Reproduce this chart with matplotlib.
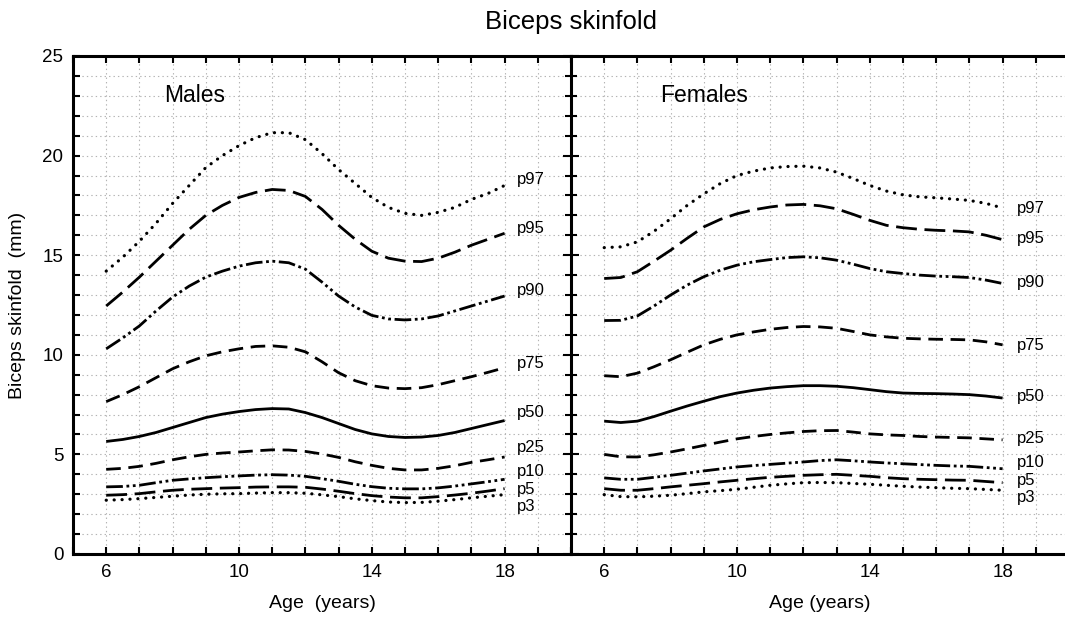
import matplotlib
matplotlib.use("Agg")
import matplotlib.pyplot as plt
from matplotlib.ticker import MultipleLocator, FixedLocator

plt.rcParams['font.family'] = ['Liberation Sans', 'DejaVu Sans']
plt.rcParams['lines.scale_dashes'] = False

# ---- data (biceps skinfold, mm), every half year ----
ages = [6, 6.5, 7, 7.5, 8, 8.5, 9, 9.5, 10, 10.5, 11, 11.5, 12,
        12.5, 13, 13.5, 14, 14.5, 15, 15.5, 16, 16.5, 17, 17.5, 18]
pct_names = ["p97", "p95", "p90", "p75", "p50", "p25", "p10", "p5", "p3"]

m_p97 = [14.2, 14.9, 15.7, 16.6, 17.6, 18.5, 19.4, 20.0, 20.5, 20.9, 21.15, 21.15, 20.8,
         20.1, 19.3, 18.6, 17.9, 17.4, 17.1, 17.0, 17.15, 17.4, 17.8, 18.1, 18.5]
m_p95 = [12.45, 13.15, 13.9, 14.7, 15.5, 16.3, 17.0, 17.5, 17.9, 18.15, 18.3, 18.25, 17.95,
         17.3, 16.5, 15.8, 15.2, 14.85, 14.7, 14.68, 14.85, 15.15, 15.5, 15.8, 16.1]
m_p90 = [10.3, 10.85, 11.45, 12.2, 12.9, 13.45, 13.9, 14.2, 14.45, 14.62, 14.7, 14.62, 14.3,
         13.65, 12.95, 12.4, 11.98, 11.8, 11.75, 11.8, 11.95, 12.2, 12.45, 12.7, 12.95]
m_p75 = [7.65, 8.0, 8.4, 8.85, 9.3, 9.65, 9.95, 10.15, 10.3, 10.42, 10.45, 10.38, 10.15,
         9.65, 9.1, 8.7, 8.45, 8.33, 8.3, 8.35, 8.5, 8.7, 8.9, 9.12, 9.35]
m_p50 = [5.65, 5.75, 5.9, 6.1, 6.35, 6.6, 6.85, 7.02, 7.15, 7.25, 7.3, 7.28, 7.1,
         6.85, 6.55, 6.25, 6.03, 5.9, 5.85, 5.87, 5.95, 6.1, 6.3, 6.5, 6.7]
m_p25 = [4.25, 4.3, 4.4, 4.55, 4.73, 4.88, 5.0, 5.07, 5.12, 5.18, 5.23, 5.22, 5.15,
         5.02, 4.85, 4.63, 4.45, 4.3, 4.22, 4.22, 4.3, 4.43, 4.6, 4.73, 4.87]
m_p10 = [3.37, 3.39, 3.45, 3.58, 3.7, 3.77, 3.83, 3.88, 3.92, 3.96, 3.98, 3.96, 3.9,
         3.78, 3.65, 3.5, 3.38, 3.3, 3.27, 3.27, 3.32, 3.41, 3.52, 3.63, 3.75]
m_p5 = [2.95, 2.98, 3.03, 3.12, 3.2, 3.25, 3.28, 3.31, 3.33, 3.36, 3.37, 3.37, 3.35,
        3.26, 3.15, 3.03, 2.93, 2.86, 2.82, 2.82, 2.88, 2.96, 3.05, 3.16, 3.28]
m_p3 = [2.7, 2.73, 2.78, 2.84, 2.9, 2.96, 3.0, 3.02, 3.03, 3.06, 3.08, 3.08, 3.05,
        2.97, 2.88, 2.77, 2.68, 2.61, 2.58, 2.59, 2.65, 2.73, 2.82, 2.9, 2.98]

f_p97 = [15.38, 15.42, 15.67, 16.2, 16.83, 17.5, 18.08, 18.6, 19.0, 19.22, 19.38, 19.45, 19.47,
         19.38, 19.17, 18.85, 18.5, 18.22, 18.03, 17.93, 17.88, 17.82, 17.75, 17.6, 17.37]
f_p95 = [13.83, 13.88, 14.17, 14.7, 15.25, 15.85, 16.42, 16.8, 17.08, 17.28, 17.42, 17.52, 17.55,
         17.48, 17.33, 17.05, 16.75, 16.5, 16.38, 16.3, 16.25, 16.22, 16.17, 16.0, 15.78]
f_p90 = [11.72, 11.73, 11.95, 12.45, 13.0, 13.5, 13.92, 14.25, 14.5, 14.67, 14.78, 14.88, 14.92,
         14.87, 14.75, 14.55, 14.33, 14.17, 14.08, 14.0, 13.95, 13.92, 13.88, 13.75, 13.58]
f_p75 = [8.95, 8.9, 9.08, 9.4, 9.75, 10.13, 10.5, 10.78, 11.0, 11.15, 11.28, 11.37, 11.42,
         11.4, 11.33, 11.17, 11.0, 10.9, 10.83, 10.8, 10.78, 10.77, 10.75, 10.65, 10.5]
f_p50 = [6.67, 6.6, 6.67, 6.9, 7.17, 7.43, 7.67, 7.9, 8.08, 8.22, 8.33, 8.4, 8.45,
         8.45, 8.42, 8.35, 8.25, 8.15, 8.08, 8.06, 8.05, 8.03, 8.0, 7.93, 7.83]
f_p25 = [5.0, 4.88, 4.87, 4.98, 5.12, 5.28, 5.45, 5.62, 5.78, 5.9, 6.0, 6.08, 6.15,
         6.19, 6.2, 6.12, 6.03, 5.98, 5.95, 5.9, 5.87, 5.85, 5.83, 5.78, 5.73]
f_p10 = [3.82, 3.75, 3.75, 3.85, 3.95, 4.06, 4.17, 4.27, 4.37, 4.44, 4.5, 4.56, 4.62,
         4.69, 4.73, 4.68, 4.62, 4.57, 4.53, 4.49, 4.45, 4.42, 4.4, 4.34, 4.28]
f_p5 = [3.28, 3.2, 3.2, 3.28, 3.37, 3.45, 3.53, 3.62, 3.7, 3.78, 3.85, 3.9, 3.95,
        3.98, 4.0, 3.95, 3.9, 3.83, 3.78, 3.75, 3.73, 3.71, 3.7, 3.64, 3.58]
f_p3 = [2.98, 2.88, 2.87, 2.9, 2.95, 3.03, 3.12, 3.18, 3.25, 3.35, 3.45, 3.52, 3.58,
        3.59, 3.58, 3.54, 3.5, 3.45, 3.4, 3.36, 3.33, 3.3, 3.28, 3.24, 3.2]

males = [m_p97, m_p95, m_p90, m_p75, m_p50, m_p25, m_p10, m_p5, m_p3]
females = [f_p97, f_p95, f_p90, f_p75, f_p50, f_p25, f_p10, f_p5, f_p3]

# where the pXX labels sit (y in mm)
m_label_y = [18.8, 16.35, 13.25, 9.57, 7.09, 5.36, 4.13, 3.25, 2.37]
f_label_y = [17.35, 15.85, 13.62, 10.49, 7.93, 5.81, 4.6, 3.68, 2.83]

# line styles per percentile (dash lengths in points)
dotted = (0, (0.1, 5.6))
long_dash = (0, (15, 5.5))
mid_dash = (0, (10.5, 5.5))
dash_dot_dot = (0, (12, 2.6, 2.0, 2.6, 2.0, 2.6))
styles = [dotted, long_dash, dash_dot_dot, mid_dash, "-", mid_dash, dash_dot_dot, long_dash, dotted]


def draw_panel(ax, series, label_y, label_x, panel_name, name_x):
    for name, vals, ly, ls in zip(pct_names, series, label_y, styles):
        cap = "round" if ls is dotted else "butt"
        lw = 2.3 if ls is dotted else 2.0
        ax.plot(ages, vals, color="black", lw=lw, linestyle=ls,
                dash_capstyle=cap, solid_capstyle="butt", zorder=3)
        ax.text(label_x, ly, name, fontsize=12, va="center", ha="left")
    ax.text(name_x, 23.0, panel_name, fontsize=16.5, va="center", ha="left")

    ax.set_xlim(5, 20)
    ax.set_ylim(0, 25)
    ax.xaxis.set_major_locator(FixedLocator([6, 10, 14, 18]))
    ax.xaxis.set_minor_locator(MultipleLocator(1))
    ax.yaxis.set_major_locator(MultipleLocator(5))
    ax.yaxis.set_minor_locator(MultipleLocator(1))
    ax.grid(True, which="both", color="#b4b4b4", lw=0.8, linestyle=(0, (1, 2.2)), zorder=0)
    ax.tick_params(which="both", direction="in", top=True, right=False,
                   width=1.5, length=5, labelsize=13.5)
    ax.tick_params(axis="x", which="major", pad=7.5)
    ax.tick_params(axis="y", which="major", pad=7)
    for sp in ax.spines.values():
        sp.set_linewidth(2.2)
    ax.set_axisbelow(True)


fig = plt.figure(figsize=(10.65, 6.25), dpi=100)
ax_m = fig.add_axes([73 / 1065, 71 / 625, 498 / 1065, 498 / 625])
ax_f = fig.add_axes([571 / 1065, 71 / 625, 498 / 1065, 498 / 625])

draw_panel(ax_m, males, m_label_y, 18.36, "Males", 7.75)
draw_panel(ax_f, females, f_label_y, 18.42, "Females", 7.68)

ax_m.spines["right"].set_visible(False)
ax_f.spines["right"].set_visible(False)
ax_f.tick_params(axis="y", which="major", direction="inout", length=12, labelleft=False)
ax_f.tick_params(axis="y", which="minor", direction="inout", length=8)

ax_m.set_ylabel("Biceps skinfold  (mm)", fontsize=14, labelpad=12)
ax_m.set_xlabel("Age  (years)", fontsize=14, labelpad=10)
ax_f.set_xlabel("Age (years)", fontsize=14, labelpad=10)

fig.text(571 / 1065, 1 - 21.5 / 625, "Biceps skinfold", ha="center", va="center", fontsize=18.5)

fig.savefig("out.png", dpi=100)
